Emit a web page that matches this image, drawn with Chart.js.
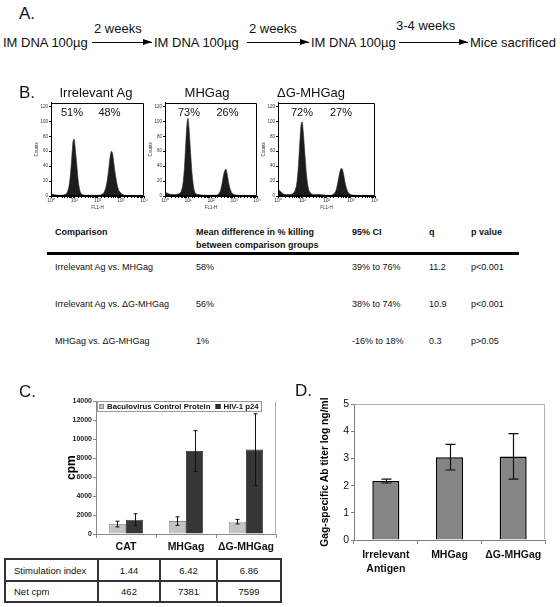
<!DOCTYPE html>
<html>
<head>
<meta charset="utf-8">
<title>DNA immunization figure</title>
<script src="https://cdn.jsdelivr.net/npm/chart.js@4.4.1/dist/chart.umd.min.js"></script>
<style>
  html, body { margin: 0; padding: 0; background: #fff; }
  #fig { position: relative; width: 560px; height: 607px; overflow: hidden;
         font-family: "Liberation Sans", Arial, sans-serif; color: #111; }
  .t { position: absolute; white-space: nowrap; line-height: 1; }
  canvas { position: absolute; }
  .arrow { position: absolute; height: 1px; background: #000; }
  .arrow:after { content: ""; position: absolute; right: 0; top: -3px;
                 border-left: 9px solid #000; border-top: 3.5px solid transparent; border-bottom: 3.5px solid transparent; }
  .hline { position: absolute; background: #000; }
  #tblC { position: absolute; left: 4px; top: 558px; border-collapse: collapse; table-layout: fixed;
          font-size: 9.5px; color: #111; }
  #tblC td { border: 2px solid #333; padding: 0; text-align: center; }
  #tblC td:first-child { text-align: left; padding-left: 8px; }
</style>
</head>
<body>
<div id="fig">
  <canvas id="hist1" width="119" height="111" style="left:30px;top:99px"></canvas>
  <canvas id="hist2" width="118" height="111" style="left:144px;top:99px"></canvas>
  <canvas id="hist3" width="123" height="111" style="left:257px;top:99px"></canvas>
  <div class="hline" style="left:47px;top:252px;width:472px;height:3px"></div>
  <canvas id="chartC" width="242" height="160" style="left:40px;top:396px"></canvas>
  <canvas id="chartD" width="245" height="180" style="left:310px;top:396px"></canvas>
</div>
<script>
// A. esquema de inmunizacion
const scheduleSteps = ['IM DNA 100µg', 'IM DNA 100µg', 'IM DNA 100µg', 'Mice sacrificed'];
const scheduleGaps = ['2 weeks', '2 weeks', '3-4 weeks'];

// B. histogramas (FL1-H vs Counts)
const histTitles = ['Irrelevant Ag', 'MHGag', 'ΔG-MHGag'];
const histPercents = [['51%', '48%'], ['73%', '26%'], ['72%', '27%']];
const fl1Channel = [1, 2, 3, 4, 5, 6, 7, 8, 9, 10, 11, 13, 15, 18, 22, 30, 50, 100, 150, 200, 250, 300, 350, 400, 450, 500, 600, 750, 1000, 1500, 3000, 10000];
const countsIrrelevant = [3, 1, 1, 2, 5, 14, 32, 56, 74, 76, 64, 40, 19, 6, 2, 1, 1, 1, 2, 6, 17, 35, 53, 60, 56, 45, 27, 11, 4, 1, 0, 0];
const countsMHGag = [5, 2, 2, 3, 6, 16, 38, 70, 96, 104, 92, 58, 30, 10, 3, 2, 1, 1, 1, 2, 6, 16, 28, 34, 36, 30, 16, 6, 2, 1, 0, 0];
const countsDeltaG = [9, 2, 2, 3, 7, 18, 42, 74, 96, 99, 86, 54, 28, 10, 4, 2, 2, 1, 1, 3, 8, 20, 31, 37, 36, 30, 16, 6, 2, 1, 0, 0];

// B. tabla de comparaciones
const compHeader = ['Comparison', 'Mean difference in % killing', '95% CI', 'q', 'p value'];
const compHeader2 = 'between comparison groups';
const compRows = [
  ['Irrelevant Ag vs. MHGag', '58%', '39% to 76%', '11.2', 'p<0.001'],
  ['Irrelevant Ag vs. ΔG-MHGag', '56%', '38% to 74%', '10.9', 'p<0.001'],
  ['MHGag vs. ΔG-MHGag', '1%', '-16% to 18%', '0.3', 'p>0.05']
];

// C. proliferacion (cpm)
const cpmGroups = ['CAT', 'MHGag', 'ΔG-MHGag'];
const seriesNames = ['Baculovirus Control Protein', 'HIV-1 p24'];
const baculoCpm = [1050, 1362, 1297];
const baculoSd = [300, 450, 240];
const p24Cpm = [1512, 8743, 8896];
const p24Sd = [620, 2150, 3780];
const stimIndex = ['1.44', '6.42', '6.86'];
const netCpm = ['462', '7381', '7599'];

// D. titulo de anticuerpos
const abGroups = [['Irrelevant', 'Antigen'], 'MHGag', 'ΔG-MHGag'];
const abTiter = [2.17, 3.05, 3.08];
const abSd = [0.07, 0.47, 0.84];

const FONT = '"Liberation Sans", Arial, sans-serif';
Chart.defaults.font.family = FONT;
Chart.defaults.color = '#111';
Chart.defaults.animation = false;

const fig = document.getElementById('fig');
function put(text, x, y, css) {
  const d = document.createElement('div');
  d.className = 't';
  d.textContent = text;
  d.style.left = x + 'px';
  d.style.top = y + 'px';
  if (css) Object.assign(d.style, css);
  fig.appendChild(d);
  return d;
}
const centered = { transform: 'translateX(-50%)' };

// letras de panel
put('A.', 19, 5, { fontSize: '17px' });
put('B.', 19, 84, { fontSize: '17px' });
put('C.', 19, 383, { fontSize: '17px' });
put('D.', 295, 382, { fontSize: '17px' });

// linea de tiempo
const stepX = [3, 154, 311, 470];
const gapX = [94, 249, 396];
const gapY = [22, 22, 19];
const arrows = [[92, 152], [247, 309], [399, 468]];
scheduleSteps.forEach((s, i) => put(s, stepX[i], 36, { fontSize: '13px' }));
scheduleGaps.forEach((s, i) => put(s, gapX[i], gapY[i], { fontSize: '13px' }));
arrows.forEach(a => {
  const d = document.createElement('div');
  d.className = 'arrow';
  d.style.left = a[0] + 'px';
  d.style.top = '42px';
  d.style.width = (a[1] - a[0]) + 'px';
  fig.appendChild(d);
});

// titulos y porcentajes de los histogramas
const titleX = [96, 207, 311];
const pctX = [[72, 109.5], [189, 227.5], [302, 341]];
histTitles.forEach((t, i) => {
  put(t, titleX[i], 86, Object.assign({ fontSize: '13px' }, centered));
  histPercents[i].forEach((p, j) => put(p, pctX[i][j], 106.5, Object.assign({ fontSize: '11px' }, centered)));
});

// tabla B
const colX = [55, 196, 352, 429, 471];
compHeader.forEach((h, i) => put(h, colX[i], 228, { fontSize: '9px', fontWeight: 'bold' }));
put(compHeader2, colX[1], 241, { fontSize: '9px', fontWeight: 'bold' });
const rowY = [267, 304, 341];
compRows.forEach((r, k) => r.forEach((c, i) => put(c, colX[i], rowY[k] - 4.5, { fontSize: '9px' })));

// tabla C
const tbl = document.createElement('table');
tbl.id = 'tblC';
const widths = [93, 62, 57, 64];
const cg = document.createElement('colgroup');
widths.forEach(w => { const c = document.createElement('col'); c.style.width = w + 'px'; cg.appendChild(c); });
tbl.appendChild(cg);
[['Stimulation index'].concat(stimIndex), ['Net cpm'].concat(netCpm)].forEach((row, k) => {
  const tr = document.createElement('tr');
  tr.style.height = (k === 0 ? 22 : 21) + 'px';
  row.forEach(c => { const td = document.createElement('td'); td.textContent = c; tr.appendChild(td); });
  tbl.appendChild(tr);
});
fig.appendChild(tbl);

// plugins
const framePlugin = {
  id: 'frame',
  afterDraw(chart, args, opts) {
    const a = chart.chartArea, ctx = chart.ctx;
    const sides = opts.sides || 'trbl';
    const l = Math.round(a.left) + 0.5, r = Math.round(a.right) - 0.5;
    const t = Math.round(a.top) + 0.5, b = Math.round(a.bottom) - 0.5;
    ctx.save();
    ctx.strokeStyle = opts.color || '#000';
    ctx.lineWidth = 1;
    ctx.beginPath();
    if (sides.includes('t')) { ctx.moveTo(l, t); ctx.lineTo(r, t); }
    if (sides.includes('r')) { ctx.moveTo(r, t); ctx.lineTo(r, b); }
    if (sides.includes('b')) { ctx.moveTo(l, b); ctx.lineTo(r, b); }
    if (sides.includes('l')) { ctx.moveTo(l, t); ctx.lineTo(l, b); }
    ctx.stroke();
    ctx.restore();
  }
};

const errorBars = {
  id: 'errorBars',
  afterDatasetsDraw(chart, args, opts) {
    const ctx = chart.ctx, y = chart.scales.y;
    chart.data.datasets.forEach((ds, i) => {
      if (!ds.errors) return;
      const meta = chart.getDatasetMeta(i);
      ctx.save();
      ctx.strokeStyle = opts.color || '#000';
      ctx.lineWidth = opts.width || 1;
      meta.data.forEach((bar, j) => {
        const v = ds.data[j], e = ds.errors[j];
        const top = y.getPixelForValue(v + e), bot = y.getPixelForValue(v - e);
        const x = Math.round(bar.x) + 0.5, cap = opts.cap || 3;
        ctx.beginPath();
        ctx.moveTo(x, top); ctx.lineTo(x, bot);
        ctx.moveTo(x - cap, top); ctx.lineTo(x + cap, top);
        ctx.moveTo(x - cap, bot); ctx.lineTo(x + cap, bot);
        ctx.stroke();
      });
      ctx.restore();
    });
  }
};

const boxLegend = {
  id: 'boxLegend',
  afterDraw(chart, args, opts) {
    const ctx = chart.ctx, a = chart.chartArea;
    ctx.save();
    ctx.font = opts.font;
    const items = chart.data.datasets.map(ds => ({ text: ds.label, color: ds.backgroundColor, border: ds.borderColor }));
    const sq = 5, gap = 3, between = 5, padL = 2, padR = 2, h = 10;
    let w = padL;
    items.forEach((it, i) => { w += sq + gap + ctx.measureText(it.text).width + (i < items.length - 1 ? between : padR); });
    const x0 = Math.round(a.left) + 1, y0 = Math.round(a.top);
    ctx.fillStyle = '#fff';
    ctx.fillRect(x0, y0, w, h);
    ctx.strokeStyle = '#999';
    ctx.lineWidth = 1;
    ctx.strokeRect(x0 + 0.5, y0 + 0.5, Math.round(w), h);
    let cx = x0 + padL;
    const mid = y0 + h / 2 + 0.5;
    ctx.textBaseline = 'middle';
    items.forEach(it => {
      ctx.fillStyle = it.color;
      ctx.fillRect(cx, mid - sq / 2, sq, sq);
      ctx.strokeStyle = it.border;
      ctx.strokeRect(cx + 0.5, mid - sq / 2 + 0.5, sq - 1, sq - 1);
      cx += sq + gap;
      ctx.fillStyle = '#111';
      ctx.fillText(it.text, cx, mid);
      cx += ctx.measureText(it.text).width + between;
    });
    ctx.restore();
  }
};

// histogramas
const sup = ['⁰', '¹', '²', '³', '⁴'];
function drawHistogram(id, counts) {
  new Chart(document.getElementById(id), {
    type: 'line',
    data: {
      datasets: [{
        data: counts.map((c, i) => ({ x: fl1Channel[i], y: c })),
        fill: 'origin',
        backgroundColor: '#1c1c1c',
        borderColor: '#2a2a2a',
        borderWidth: 0.6,
        pointRadius: 0,
        cubicInterpolationMode: 'monotone'
      }]
    },
    options: {
      responsive: false,
      layout: { padding: { top: 2, right: 5, left: 0, bottom: 0 } },
      plugins: { legend: { display: false }, tooltip: { enabled: false }, frame: { sides: 'trbl', color: '#000' } },
      scales: {
        x: {
          type: 'logarithmic', min: 1, max: 10000,
          afterFit: s => { s.height = 14; },
          grid: { drawOnChartArea: false, tickLength: 2, color: '#000' },
          border: { color: '#000' },
          ticks: {
            autoSkip: false, maxRotation: 0, padding: 0, font: { size: 5 }, color: '#333',
            callback: v => {
              const p = Math.log10(v), r = Math.round(p);
              return Math.abs(p - r) < 1e-6 ? '10' + sup[r] : '';
            }
          },
          title: { display: true, text: 'FL1-H', font: { size: 4.5 }, color: '#333', padding: 0 }
        },
        y: {
          min: 0, max: 125,
          afterFit: s => { s.width = 21; },
          grid: { drawOnChartArea: false, tickLength: 2, color: '#000' },
          border: { color: '#000' },
          ticks: { stepSize: 20, includeBounds: false, padding: 1, font: { size: 4.5 }, color: '#333' },
          title: { display: true, text: 'Counts', font: { size: 4.5 }, color: '#333', padding: { top: 4, bottom: 0 } }
        }
      }
    },
    plugins: [framePlugin]
  });
}
drawHistogram('hist1', countsIrrelevant);
drawHistogram('hist2', countsMHGag);
drawHistogram('hist3', countsDeltaG);

// C
new Chart(document.getElementById('chartC'), {
  type: 'bar',
  data: {
    labels: cpmGroups,
    datasets: [
      { label: seriesNames[0], data: baculoCpm, errors: baculoSd, backgroundColor: '#c4c4c4', borderColor: '#8a8a8a', borderWidth: 0.8 },
      { label: seriesNames[1], data: p24Cpm, errors: p24Sd, backgroundColor: '#363636', borderColor: '#222', borderWidth: 0.8 }
    ]
  },
  options: {
    responsive: false,
    layout: { padding: { top: 5, right: 6, left: 0, bottom: 0 } },
    datasets: { bar: { categoryPercentage: 0.57, barPercentage: 1 } },
    plugins: {
      legend: { display: false }, tooltip: { enabled: false },
      errorBars: { cap: 2, width: 1, color: '#111' },
      boxLegend: { font: 'bold 7.8px ' + FONT },
      frame: { sides: 'r', color: '#aaa' }
    },
    scales: {
      x: {
        afterFit: s => { s.height = 22; },
        grid: { drawOnChartArea: false, tickLength: 4, color: '#888', offset: true },
        border: { color: '#888' },
        ticks: { padding: 3, autoSkip: false, minRotation: 0, maxRotation: 0, font: { size: 10.5, weight: 'bold' }, color: '#111' }
      },
      y: {
        min: 0, max: 14000,
        afterFit: s => { s.width = 56; },
        grid: { drawOnChartArea: false, tickLength: 3, color: '#888' },
        border: { color: '#888' },
        ticks: { stepSize: 2000, padding: 1, font: { size: 7, weight: 'bold' }, color: '#222', callback: v => String(v) },
        title: { display: true, text: 'cpm', font: { size: 12, weight: 'bold' }, color: '#000', padding: { top: 24, bottom: 0 } }
      }
    }
  },
  plugins: [errorBars, boxLegend, framePlugin]
});

// D
new Chart(document.getElementById('chartD'), {
  type: 'bar',
  data: {
    labels: abGroups,
    datasets: [{ data: abTiter, errors: abSd, backgroundColor: '#858585', borderColor: '#000', borderWidth: 1.5 }]
  },
  options: {
    responsive: false,
    layout: { padding: { top: 6, right: 10, left: 0, bottom: 0 } },
    datasets: { bar: { categoryPercentage: 0.85, barPercentage: 0.5 } },
    plugins: {
      legend: { display: false }, tooltip: { enabled: false },
      errorBars: { cap: 5, width: 1.2, color: '#111' },
      frame: { sides: 'tr', color: '#b0b0b0' }
    },
    scales: {
      x: {
        afterFit: s => { s.height = 36; },
        grid: { drawOnChartArea: false, tickLength: 4, color: '#808080', offset: true },
        border: { color: '#808080' },
        ticks: { padding: 4, autoSkip: false, minRotation: 0, maxRotation: 0, font: { size: 10.5, weight: 'bold', lineHeight: 1.35 }, color: '#111' }
      },
      y: {
        min: 0, max: 5,
        afterFit: s => { s.width = 44; },
        grid: { drawOnChartArea: false, tickLength: 3, color: '#808080' },
        border: { color: '#808080' },
        ticks: { stepSize: 0.5, padding: 2, font: { size: 10.5 }, color: '#111', callback: v => String(v) },
        title: { display: true, text: 'Gag-specific Ab titer log ng/ml', font: { size: 10.3, weight: 'bold' }, color: '#000', padding: { top: 9, bottom: 0 } }
      }
    }
  },
  plugins: [errorBars, framePlugin]
});
</script>
</body>
</html>
